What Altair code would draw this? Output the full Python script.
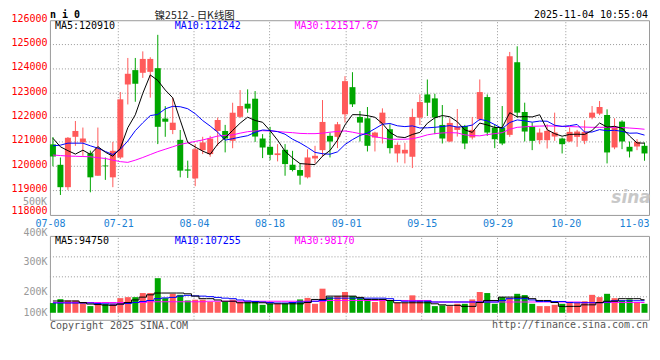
import altair as alt
import pandas as pd

# ---------------- data ----------------
dates = ["07-08","07-09","07-10","07-11","07-14","07-15","07-16","07-17","07-18","07-21",
         "07-22","07-23","07-24","07-25","07-28","07-29","07-30","07-31","08-01","08-04",
         "08-05","08-06","08-07","08-08","08-11","08-12","08-13","08-14","08-15","08-18",
         "08-19","08-20","08-21","08-22","08-25","08-26","08-27","08-28","08-29","09-01",
         "09-02","09-03","09-04","09-05","09-08","09-09","09-10","09-11","09-12","09-15",
         "09-16","09-17","09-18","09-19","09-22","09-23","09-24","09-25","09-26","09-29",
         "09-30","10-09","10-10","10-13","10-14","10-15","10-16","10-17","10-20","10-21",
         "10-22","10-23","10-24","10-27","10-28","10-29","10-30","10-31","11-03","11-04"]

open_ = [120900,120060,119140,121210,120980,120530,119610,120030,119545,120360,
         123360,123950,123840,123880,124030,121960,121490,121085,119870,119500,
         120660,120500,121450,121450,121045,122030,122570,122775,121140,120800,
         120460,120676,120063,119845,119545,120320,120662,121249,121208,122135,
         123250,122026,121971,121181,121753,121521,120526,120526,120390,121998,
         122952,122789,121698,121017,121494,121657,121181,121930,122843,121589,
         121589,121290,124274,122230,121617,121071,121071,121221,121140,121017,
         121208,121044,121998,122162,122107,120772,121835,120799,120812,120840]
high = [121200,120360,121200,121860,121590,120640,121590,120360,121000,123050,
        124450,124450,124720,124480,125400,122470,122820,121490,120230,120910,
        121210,121250,122000,121700,122610,123130,123160,123090,121320,121620,
        120910,120910,120635,120117,120700,120840,122720,121385,121821,123700,
        123865,122270,122434,121420,122380,121726,120976,120962,122366,122952,
        123566,122980,122516,121971,122353,121700,122026,123566,122952,121726,
        122475,124697,124929,122612,121794,121549,121726,122203,121180,121590,
        121494,121889,122475,122680,122339,121971,121889,121017,121112,120976]
low = [120000,118820,119030,120840,120430,118930,119610,119440,119140,120300,
       122540,122650,123630,122820,120910,121210,121320,119545,119520,119180,
       120500,120390,120840,120570,120740,121980,122200,121000,120335,120250,
       120200,119610,119790,119245,119500,120117,120390,120362,120744,121794,
       122435,121017,120608,120608,120935,120526,120158,120117,119926,121698,
       122066,121317,120935,120990,121221,120703,121100,121860,121249,120744,
       120867,121208,121998,121017,120662,120907,120730,121044,120526,120990,
       120799,120907,121930,122100,120117,120700,120703,120362,120662,120226]
close = [120400,119140,121170,121450,121140,119545,120740,120000,120635,122750,
         123800,123390,124410,124410,121620,121830,121790,119820,119820,120700,
         120980,121140,121900,121140,122200,122475,122370,121220,120770,120470,
         120530,120090,119845,119613,120362,120430,121821,121017,121726,123497,
         122545,121794,120840,121385,122203,120744,120880,120676,122026,122639,
         122612,121998,121140,121780,121617,120935,121494,123048,121385,121112,
         120935,124520,122203,121426,121044,121385,121453,121385,120907,121412,
         121426,121412,122203,122434,120567,121589,121017,120608,121003,120526]

ma5 = [121150,120800,120640,120500,120660,120489,120809,120575,120412,120734,
       121585,122115,122997,123752,123526,123132,122812,121894,120976,120792,
       120622,120492,120908,121172,121472,121771,122017,121881,121807,121461,
       121072,120616,120341,120110,120088,120068,120414,120649,121071,121698,
       122121,122116,122080,122012,121753,121393,121210,121178,121306,121393,
       121767,121990,122083,122034,121829,121494,121393,121775,121696,121595,
       121595,122200,122031,122039,122026,122116,121502,121339,121235,121308,
       121317,121308,121472,121777,121608,121641,121562,121243,120957,120949]
ma10 = [120840,120867,120949,120949,120949,120840,120744,120608,120480,120697,
        121037,121462,121786,122082,122130,122359,122464,122446,122364,122159,
        121877,121652,121401,121074,121132,121197,121255,121395,121490,121467,
        121422,121317,121111,120959,120775,120570,120515,120495,120591,120893,
        121095,121265,121365,121542,121726,121757,121663,121629,121659,121573,
        121580,121600,121631,121670,121611,121631,121692,121929,121865,121712,
        121545,121797,121903,121868,121811,121856,121851,121685,121637,121667,
        121717,121405,121406,121506,121458,121479,121435,121358,121367,121279]
ma30 = [120460,120440,120420,120410,120400,120390,120350,120320,120250,120190,
        120160,120250,120360,120480,120600,120700,120800,120900,120960,121020,
        121080,121160,121240,121270,121290,121360,121420,121450,121460,121450,
        121430,121400,121380,121350,121340,121340,121360,121400,121430,121450,
        121400,121340,121300,121210,121160,121110,121110,121112,121130,121200,
        121290,121340,121370,121380,121370,121290,121260,121250,121300,121340,
        121380,121520,121600,121620,121640,121650,121660,121650,121640,121630,
        121620,121610,121600,121600,121600,121600,121590,121570,121550,121520]

volume = [138,153,148,148,138,126,137,134,136,157, 161,161,177,177,235,157,174,170,148,151,
          151,142,142,142,151,142,144,144,131,135, 135,135,142,152,158,135,194,161,165,181,
          165,157,152,142,148,148,139,139,168,148, 148,126,129,126,135,135,152,181,177,135,
          161,157,174,169,135,126,126,131,135,142, 139,145,170,161,174,157,148,152,142,135]
vma5 = [146,146,146,146,140,134,132,130,129,134, 140,150,161,170,177,177,177,177,174,165,
        155,155,150,145,145,139,139,139,139,135, 135,135,135,135,140,152,152,165,165,165,
        165,160,152,152,152,148,139,139,139,139, 139,135,131,129,129,125,125,140,148,148,
        161,161,161,161,155,148,148,140,125,125, 125,131,131,140,145,145,155,155,155,151]
vma10 = [138,138,138,138,138,138,136,135,134,134, 136,140,144,148,155,158,160,165,168,166,
         165,163,160,157,155,150,146,144,142,140, 138,138,140,142,142,145,148,157,157,157,
         157,157,157,157,157,155,148,145,145,145, 145,142,142,142,142,142,142,142,142,142,
         148,155,155,155,150,144,144,144,144,140, 139,139,139,139,142,147,147,147,147,147]
vma30 = [140,140,140,140,140,140,140,140,140,140, 140,140,140,143,143,143,143,143,143,143,
         143,145,145,145,145,145,145,145,145,145, 145,145,145,145,145,145,145,148,148,148,
         148,148,148,148,148,148,148,148,148,148, 148,142,142,142,142,142,142,142,142,142,
         142,142,142,142,142,142,142,142,142,142, 142,140,140,140,140,140,140,140,140,140]

x_labels = ["07-08","07-21","08-04","08-18","09-01","09-15","09-29","10-20","11-03"]
price_ticks = [118000,119000,120000,121000,122000,123000,124000,125000,126000]
vol_ticks = [100000,200000,300000,400000]

# ---------------- layout constants ----------------
MONO = "DejaVu Sans Mono"
CJK = "Noto Sans CJK SC"
RED, GREEN = "#ff5a5a", "#00a600"
GRID = "#999999"
W, HP, HV = 600, 195, 84
X_DOM = [-0.4, 79.6]
P_DOM = [118000, 126000]
V_DOM = [72700, 400000]
x_tick_pos = [-0.4, 8.73, 18.84, 28.93, 39.16, 49.24, 59.37, 68.49, 79.6]
x_grid_pos = x_tick_pos[1:-1]
vol_grid_vals = [162300, 240300, 318200]

df = pd.DataFrame({
    "idx": list(range(len(dates))), "date": dates,
    "open": open_, "high": high, "low": low, "close": close,
    "ma5": ma5, "ma10": ma10, "ma30": ma30,
    "vol": [v * 1000 for v in volume],
    "vma5": [v * 1000 for v in vma5], "vma10": [v * 1000 for v in vma10],
    "vma30": [v * 1000 for v in vma30],
})
df["dir"] = ["up" if c >= o else "down" for o, c in zip(open_, close)]
df["base"] = 100000

XS = alt.Scale(domain=X_DOM, nice=False, zero=False, padding=0)
YP = alt.Scale(domain=P_DOM, nice=False, zero=False, padding=0)
YV = alt.Scale(domain=V_DOM, nice=False, zero=False, padding=0)
COL = alt.Color("dir:N", scale=alt.Scale(domain=["up", "down"], range=[RED, GREEN]), legend=None)

expr = ""
for p, l in zip(x_tick_pos[:-1], x_labels[:-1]):
    expr += f"datum.value < {p + 0.5} ? '{l}' : "
expr += f"'{x_labels[-1]}'"

common = dict(ticks=False, tickSize=0, domain=False, labelFont=MONO, labelFontSize=10,
              labelFlush=False, labelOverlap=False, title=None, grid=False)

x_axis = alt.Axis(values=x_tick_pos, labelExpr=expr, labelColor="#1a7fd4", labelPadding=4,
                  labelAlign={"condition": {"test": "datum.value > 79", "value": "right"},
                              "value": "center"},
                  **common)
yp_axis = alt.Axis(values=price_ticks, format="d", labelColor="#ff0000", labelPadding=3,
                   labelOffset={"condition": {"test": "datum.value == 118000", "value": -4},
                                "value": -2},
                   **common)
yv_axis = alt.Axis(values=vol_ticks,
                   labelExpr="format(datum.value / 1000, 'd') + 'K'",
                   labelColor="#999999", labelPadding=3,
                   labelOffset={"condition": [{"test": "datum.value == 400000", "value": -3},
                                              {"test": "datum.value == 200000", "value": 4}],
                                "value": 0},
                   **common)


def label(txt, x, y, color, size=10, align="left", font=MONO, weight="normal", style="normal"):
    return alt.Chart(pd.DataFrame({"t": [txt]})).mark_text(
        align=align, baseline="middle", font=font, fontSize=size, color=color,
        fontWeight=weight, fontStyle=style
    ).encode(x=alt.value(x), y=alt.value(y), text="t:N")


def grid_lines(yvals, ydom, yscale):
    rows = []
    for v in yvals:
        rows += [{"g": f"h{v}", "gx": X_DOM[0], "gy": v}, {"g": f"h{v}", "gx": X_DOM[1], "gy": v}]
    for p in x_grid_pos:
        rows += [{"g": f"v{p}", "gx": p, "gy": ydom[0]}, {"g": f"v{p}", "gx": p, "gy": ydom[1]}]
    return alt.Chart(pd.DataFrame(rows)).mark_line(
        color=GRID, strokeWidth=1, strokeDash=[1, 2]
    ).encode(x=alt.X("gx:Q", scale=XS, axis=None),
             y=alt.Y("gy:Q", scale=yscale, axis=None),
             detail="g:N")


base = alt.Chart(df)

wicks = base.mark_rule(strokeWidth=1).encode(
    x=alt.X("idx:Q", scale=XS, axis=x_axis),
    y=alt.Y("low:Q", scale=YP, axis=yp_axis),
    y2="high:Q", color=COL)
bodies = base.mark_bar(size=6).encode(
    x=alt.X("idx:Q", scale=XS, axis=None),
    y=alt.Y("open:Q", scale=YP, axis=None),
    y2="close:Q", color=COL)


def ma_line(field, color, scale, interp="linear"):
    return base.mark_line(color=color, strokeWidth=1, interpolate=interp).encode(
        x=alt.X("idx:Q", scale=XS, axis=None),
        y=alt.Y(f"{field}:Q", scale=scale, axis=None))


price = alt.layer(
    grid_lines(price_ticks[1:-1], P_DOM, YP), wicks, bodies,
    ma_line("ma30", "#ff00ff", YP),
    ma_line("ma10", "#0000ff", YP),
    ma_line("ma5", "#000000", YP),
    label("n i 0", 0, -5, "#000", size=10, weight="bold"),
    label("镍2512  -  日K线图", 145, -4.5, "#222", size=10.5, align="center", font=CJK),
    label("2025-11-04 10:55:04", 599, -5, "#000", align="right"),
    label("MA5:120910", 5, 6, "#000"),
    label("MA10:121242", 125, 6, "#0000ff"),
    label("MA30:121517.67", 245, 6, "#ff00ff"),
    label("500K", -3, 182, "#999999", align="right"),
    label("sina", 582, 178, "#c8c8c8", size=17, align="center", font="DejaVu Sans",
          weight="bold", style="italic"),
).resolve_axis(x="independent", y="independent").properties(width=W, height=HP)

vbars = base.mark_bar(size=6).encode(
    x=alt.X("idx:Q", scale=XS, axis=None),
    y=alt.Y("vol:Q", scale=YV, axis=yv_axis),
    y2="base:Q", color=COL)

volume_chart = alt.layer(
    grid_lines(vol_grid_vals, V_DOM, YV), vbars,
    ma_line("vma30", "#ff00ff", YV, "step"),
    ma_line("vma10", "#0000ff", YV, "step"),
    ma_line("vma5", "#000000", YV, "step"),
    label("MA5:94750", 5, 5, "#000"),
    label("MA10:107255", 125, 5, "#0000ff"),
    label("MA30:98170", 245, 5, "#ff00ff"),
    label("Copyright 2025 SINA.COM", 0, 90, "#555555"),
    label("http://finance.sina.com.cn", 599, 89, "#555555", align="right"),
).resolve_axis(x="independent", y="independent").properties(width=W, height=HV)

chart = alt.vconcat(price, volume_chart, spacing=21, bounds="flush").properties(
    padding={"left": 2, "top": 1, "right": 0, "bottom": 0}, background="white"
).configure_view(stroke="#9a9a9a", strokeWidth=1)

chart.save("out.html", embed_options={"renderer": "svg", "actions": False})
